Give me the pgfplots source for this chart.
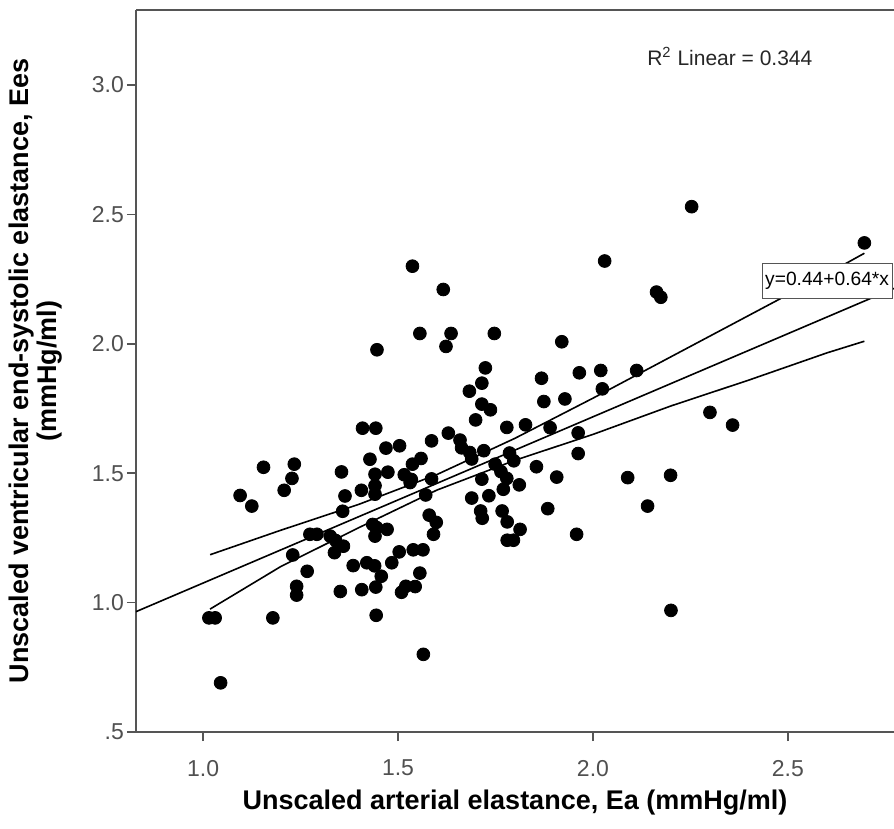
\documentclass[border=0pt]{standalone}
\usepackage{fontspec}
\setmainfont{Liberation Sans}
\usepackage{pgfplots}
\pgfplotsset{compat=1.18}
\definecolor{axgray}{RGB}{85,85,85}
\definecolor{ticklab}{RGB}{80,80,80}
\begin{document}
\begin{tikzpicture}
\begin{axis}[
  at={(0,0)}, anchor=south west,
  scale only axis, width=379pt, height=361pt,
  xmin=0.828, xmax=2.772, ymin=0.5, ymax=3.29,
  axis x line*=bottom, axis y line*=left,
  axis line style={axgray, line width=1pt, -},
  xtick={1.0,1.5,2.0,2.5}, xticklabels={1.0,1.5,2.0,2.5},
  ytick={0.5,1.0,1.5,2.0,2.5,3.0}, yticklabels={.5,1.0,1.5,2.0,2.5,3.0},
  tick align=outside, major tick length=4.5pt,
  tick style={axgray, line width=0.8pt},
  ticklabel style={font=\fontsize{11.5}{13}\selectfont, text=ticklab},
  xticklabel style={yshift=-6pt},
  yticklabel style={xshift=2pt},
  xlabel={\textbf{Unscaled arterial elastance, Ea (mmHg/ml)}},
  ylabel={\textbf{Unscaled ventricular end-systolic elastance, Ees}\\\textbf{(mmHg/ml)}},
  label style={font=\fontsize{13.5}{14}\selectfont},
  xlabel style={at={(axis description cs:0.5,-0.0983)}, anchor=center},
  ylabel style={at={(axis description cs:-0.132,0.5)}, anchor=center, align=center},
]
\addplot[only marks, mark=*, mark size=3.2pt, black] table {
x y
2.253 2.53
2.696 2.39
2.03 2.32
1.537 2.30
1.616 2.21
2.163 2.20
2.174 2.18
1.556 2.04
1.636 2.04
1.747 2.04
1.623 1.99
1.446 1.977
1.920 2.008
1.724 1.907
1.868 1.867
1.965 1.888
2.020 1.897
2.112 1.897
1.715 1.848
1.683 1.817
2.024 1.826
1.928 1.787
1.874 1.777
1.715 1.767
1.737 1.745
2.30 1.735
2.358 1.686
1.699 1.706
1.409 1.674
1.443 1.674
1.779 1.677
1.827 1.687
1.89 1.676
1.962 1.656
1.629 1.655
1.586 1.625
1.469 1.597
1.504 1.606
1.659 1.628
1.663 1.598
1.684 1.58
1.689 1.555
1.72 1.587
1.559 1.557
1.537 1.535
1.428 1.554
1.962 1.576
1.786 1.578
1.797 1.548
1.749 1.535
1.855 1.525
1.907 1.485
2.089 1.483
2.199 1.492
1.764 1.506
1.779 1.48
1.77 1.438
1.811 1.455
1.715 1.477
1.689 1.404
1.733 1.413
1.712 1.354
1.716 1.326
1.767 1.354
1.78 1.312
1.813 1.283
1.78 1.241
1.796 1.241
1.884 1.363
1.958 1.264
2.14 1.373
2.20 0.97
1.155 1.523
1.234 1.535
1.228 1.48
1.208 1.434
1.095 1.414
1.125 1.373
1.355 1.505
1.441 1.496
1.441 1.452
1.441 1.419
1.406 1.434
1.364 1.412
1.358 1.353
1.474 1.504
1.516 1.494
1.534 1.476
1.531 1.464
1.586 1.478
1.571 1.416
1.435 1.302
1.445 1.29
1.441 1.257
1.472 1.283
1.58 1.338
1.598 1.31
1.591 1.264
1.274 1.264
1.292 1.264
1.326 1.257
1.34 1.24
1.36 1.218
1.337 1.193
1.23 1.184
1.267 1.121
1.24 1.063
1.24 1.029
1.352 1.043
1.407 1.05
1.443 1.06
1.385 1.143
1.42 1.154
1.44 1.142
1.457 1.102
1.484 1.154
1.503 1.196
1.539 1.204
1.564 1.204
1.556 1.114
1.509 1.04
1.52 1.063
1.544 1.062
1.444 0.951
1.565 0.80
1.015 0.941
1.031 0.941
1.179 0.941
1.045 0.69
};
\addplot[black, line width=0.8pt] coordinates {(0.828,0.965) (2.772,2.214)};
\addplot[black, line width=0.8pt] coordinates {
(1.018,1.185) (1.2,1.28) (1.4,1.38) (1.6,1.495) (1.8,1.635) (2.0,1.79) (2.2,1.95) (2.4,2.11) (2.6,2.27) (2.696,2.35)};
\addplot[black, line width=0.8pt] coordinates {
(1.018,0.975) (1.2,1.14) (1.4,1.29) (1.6,1.435) (1.8,1.55) (2.0,1.65) (2.2,1.76) (2.4,1.86) (2.6,1.965) (2.696,2.01)};
\node[draw=axgray, fill=white, anchor=west, inner xsep=1.5pt, inner ysep=4.5pt, font=\fontsize{9.6}{11}\selectfont] at (axis cs:2.433,2.244) {y=0.44+0.64*x};
\node[font=\fontsize{10.5}{12}\selectfont, text=black!85] at (axis cs:2.351,3.112) {R\textsuperscript{2} Linear = 0.344};
\end{axis}
\draw[axgray, line width=1pt] (0,361pt) -- (379pt,361pt);
\pgfresetboundingbox
\useasboundingbox (-68pt,-48.5pt) rectangle (379pt,366pt);
\end{tikzpicture}
\end{document}
